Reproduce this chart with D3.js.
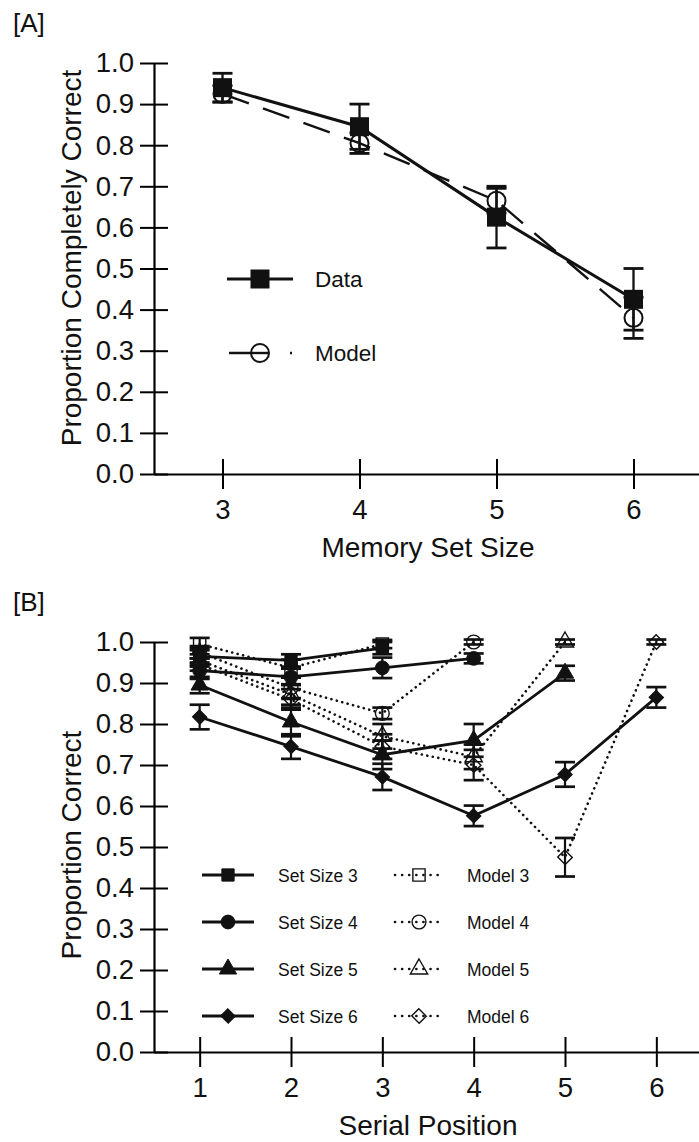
<!DOCTYPE html>
<html>
<head>
<meta charset="utf-8">
<script src="https://cdn.jsdelivr.net/npm/d3@7"></script>
<style>
  body { margin: 0; background: #fff; }
  svg { display: block; }
  text { font-family: "Liberation Sans", Arial, Helvetica, sans-serif; fill: #111; }
</style>
</head>
<body>
<svg id="fig" width="699" height="1142"></svg>
<script>
// ---- Panel A: proportion of lists recalled completely correct ----
const setSizes   = [3, 4, 5, 6];
const dataA      = [0.94, 0.845, 0.625, 0.425];
const dataAErr   = [0.035, 0.055, 0.075, 0.075];
const modelA     = [0.925, 0.805, 0.665, 0.38];
const modelAErr  = [0.02, 0.025, 0.03, 0.05];

// ---- Panel B: proportion correct by serial position ----
const positions  = [1, 2, 3, 4, 5, 6];
const set3       = [0.965, 0.955, 0.985];
const set3Err    = [0.02, 0.015, 0.015];
const set4       = [0.93, 0.915, 0.937, 0.96];
const set4Err    = [0.02, 0.02, 0.025, 0.012];
const set5       = [0.895, 0.805, 0.725, 0.76, 0.924];
const set5Err    = [0.02, 0.035, 0.035, 0.04, 0.018];
const set6       = [0.817, 0.745, 0.671, 0.576, 0.677, 0.865];
const set6Err    = [0.03, 0.03, 0.032, 0.025, 0.03, 0.025];
const model3     = [0.995, 0.937, 0.995];
const model3Err  = [0.015, 0.02, 0.01];
const model4     = [0.975, 0.888, 0.826, 1.0];
const model4Err  = [0.015, 0.025, 0.014, 0.006];
const model5     = [0.955, 0.872, 0.77, 0.72, 1.0];
const model5Err  = [0.015, 0.025, 0.03, 0.03, 0.006];
const model6     = [0.945, 0.86, 0.745, 0.70, 0.475, 1.0];
const model6Err  = [0.015, 0.025, 0.03, 0.037, 0.047, 0.006];

const yTicks  = [0, 0.1, 0.2, 0.3, 0.4, 0.5, 0.6, 0.7, 0.8, 0.9, 1.0];
const xTicksA = [3, 4, 5, 6];
const xTicksB = [1, 2, 3, 4, 5, 6];

const legendA = [
  { label: "Data",  kind: "data" },
  { label: "Model", kind: "model" }
];

const seriesB = [
  { label: "Set Size 3", model: "Model 3", shape: "square",   vals: set3, errs: set3Err, mvals: model3, merrs: model3Err },
  { label: "Set Size 4", model: "Model 4", shape: "circle",   vals: set4, errs: set4Err, mvals: model4, merrs: model4Err },
  { label: "Set Size 5", model: "Model 5", shape: "triangle", vals: set5, errs: set5Err, mvals: model5, merrs: model5Err },
  { label: "Set Size 6", model: "Model 6", shape: "diamond",  vals: set6, errs: set6Err, mvals: model6, merrs: model6Err }
];

const svg = d3.select("#fig");
const INK = "#111";

// shape helpers
const symType = { square: d3.symbolSquare, circle: d3.symbolCircle, triangle: d3.symbolTriangle, diamond: d3.symbolSquare };
const symSize = { square: 150, circle: 150, triangle: 130, diamond: 100 };
function marker(g, shape, cx, cy, hollow, scale) {
  const s = scale || 1;
  return g.append("path")
    .attr("d", d3.symbol(symType[shape], symSize[shape] * s)())
    .attr("transform", `translate(${cx},${cy})` + (shape === "diamond" ? " rotate(45) scale(1.05,1)" : ""))
    .attr("fill", hollow ? "none" : INK)
    .attr("stroke", INK)
    .attr("stroke-width", hollow ? 1.4 : 1);
}

function axes(g, x, y, xt, titleX, titleY, tx, ty) {
  const ay = d3.axisLeft(y).tickValues(yTicks).tickFormat(d3.format(".1f"))
    .tickSizeInner(14).tickSizeOuter(0).tickPadding(6);
  const gy = g.append("g").attr("transform", `translate(${x.range()[0]},0)`).call(ay);
  gy.selectAll(".tick line").attr("x1", 14).attr("stroke-width", 2);
  gy.select(".domain").attr("stroke-width", 2.2);
  gy.selectAll(".tick text").attr("font-size", 27.5).attr("font-family", null);

  const ax = d3.axisBottom(x).tickValues(xt).tickFormat(d3.format("d"))
    .tickSizeInner(15).tickSizeOuter(0).tickPadding(10);
  const gx = g.append("g").attr("transform", `translate(0,${y(0)})`).call(ax);
  gx.selectAll(".tick line").attr("y1", -15).attr("stroke-width", 2);
  gx.select(".domain").attr("stroke-width", 2.2);
  gx.selectAll(".tick text").attr("font-size", 27.5).attr("font-family", null);

  g.append("text").attr("x", (x.range()[0] + x.range()[1]) / 2).attr("y", y(0) + 83)
    .attr("text-anchor", "middle").attr("font-size", 28).text(titleX);
  g.append("text").attr("transform", `translate(${tx},${ty}) rotate(-90)`)
    .attr("text-anchor", "middle").attr("font-size", 28).text(titleY);
}

function errBar(g, cx, y, v, e, cap, w) {
  g.append("line").attr("x1", cx).attr("x2", cx).attr("y1", y(v - e)).attr("y2", y(v + e))
    .attr("stroke", INK).attr("stroke-width", w);
  [v - e, v + e].forEach(b => g.append("line")
    .attr("x1", cx - cap / 2).attr("x2", cx + cap / 2).attr("y1", y(b)).attr("y2", y(b))
    .attr("stroke", INK).attr("stroke-width", w + 0.5));
}

// ================= Panel A =================
{
  const x = d3.scaleLinear().domain([2.5, 6.5]).range([154, 702]);
  const y = d3.scaleLinear().domain([0, 1]).range([474, 63]);
  const g = svg.append("g");
  svg.append("text").attr("x", 13).attr("y", 32).attr("font-size", 26).text("[A]");
  axes(g, x, y, xTicksA, "Memory Set Size", "Proportion Completely Correct", 81, 258);

  const line = d3.line().x((d, i) => x(setSizes[i])).y(d => y(d));
  g.append("path").attr("d", line(modelA)).attr("fill", "none").attr("stroke", INK)
    .attr("stroke-width", 2.4).attr("stroke-dasharray", "28,15");
  g.append("path").attr("d", line(dataA)).attr("fill", "none").attr("stroke", INK)
    .attr("stroke-width", 3);

  setSizes.forEach((s, i) => {
    errBar(g, x(s), y, modelA[i], modelAErr[i], 20, 2.3);
    errBar(g, x(s), y, dataA[i], dataAErr[i], 20, 2.3);
  });
  setSizes.forEach((s, i) => {
    g.append("circle").attr("cx", x(s)).attr("cy", y(modelA[i])).attr("r", 9)
      .attr("fill", "none").attr("stroke", INK).attr("stroke-width", 2);
    g.append("rect").attr("x", x(s) - 9.5).attr("y", y(dataA[i]) - 9.5)
      .attr("width", 19).attr("height", 19).attr("fill", INK);
  });

  // legend
  const ly = [279, 353];
  legendA.forEach((d, i) => {
    const lg = g.append("g");
    if (d.kind === "data") {
      lg.append("line").attr("x1", 227).attr("x2", 293).attr("y1", ly[i]).attr("y2", ly[i])
        .attr("stroke", INK).attr("stroke-width", 3);
      lg.append("rect").attr("x", 260 - 9.5).attr("y", ly[i] - 9.5).attr("width", 19).attr("height", 19).attr("fill", INK);
    } else {
      lg.append("line").attr("x1", 229).attr("x2", 293).attr("y1", ly[i]).attr("y2", ly[i])
        .attr("stroke", INK).attr("stroke-width", 2.4).attr("stroke-dasharray", "40,21,2,10");
      lg.append("circle").attr("cx", 260).attr("cy", ly[i]).attr("r", 9)
        .attr("fill", "#fff").attr("stroke", INK).attr("stroke-width", 2);
      lg.append("line").attr("x1", 251).attr("x2", 269).attr("y1", ly[i]).attr("y2", ly[i])
        .attr("stroke", INK).attr("stroke-width", 2.4);
    }
    lg.append("text").attr("x", 315).attr("y", ly[i] + 8).attr("font-size", 22.5).text(d.label);
  });
}

// ================= Panel B =================
{
  const x = d3.scaleLinear().domain([0.5, 6.5]).range([154, 702]);
  const y = d3.scaleLinear().domain([0, 1]).range([1052, 642]);
  const g = svg.append("g");
  svg.append("text").attr("x", 13).attr("y", 611).attr("font-size", 26).text("[B]");
  axes(g, x, y, xTicksB, "Serial Position", "Proportion Correct", 81, 845);

  const line = d3.line().x((d, i) => x(positions[i])).y(d => y(d));

  // model predictions (dotted)
  seriesB.forEach(s => {
    g.append("path").attr("d", line(s.mvals)).attr("fill", "none").attr("stroke", INK)
      .attr("stroke-width", 2.6).attr("stroke-linecap", "round").attr("stroke-dasharray", "0.1,5.5");
  });
  // observed data (solid)
  seriesB.forEach(s => {
    g.append("path").attr("d", line(s.vals)).attr("fill", "none").attr("stroke", INK)
      .attr("stroke-width", 2.8);
  });
  seriesB.forEach(s => {
    s.mvals.forEach((v, i) => errBar(g, x(positions[i]), y, v, s.merrs[i], 20, 2.2));
    s.vals.forEach((v, i) => errBar(g, x(positions[i]), y, v, s.errs[i], 20, 2.2));
  });
  seriesB.forEach(s => {
    s.mvals.forEach((v, i) => marker(g, s.shape, x(positions[i]), y(v), true));
    s.vals.forEach((v, i) => marker(g, s.shape, x(positions[i]), y(v), false));
  });

  // legend
  seriesB.forEach((s, i) => {
    const cy = 875 + i * 47;
    g.append("line").attr("x1", 202).attr("x2", 254).attr("y1", cy).attr("y2", cy)
      .attr("stroke", INK).attr("stroke-width", 2.8);
    marker(g, s.shape, 228, cy, false);
    g.append("text").attr("x", 278).attr("y", cy + 6.5).attr("font-size", 17.5).text(s.label);

    g.append("line").attr("x1", 395).attr("x2", 443).attr("y1", cy).attr("y2", cy)
      .attr("stroke", INK).attr("stroke-width", 2.6).attr("stroke-linecap", "round")
      .attr("stroke-dasharray", "0.1,7");
    marker(g, s.shape, 419, cy, true);
    g.append("text").attr("x", 467).attr("y", cy + 6.5).attr("font-size", 17.5).text(s.model);
  });
}
</script>
</body>
</html>
